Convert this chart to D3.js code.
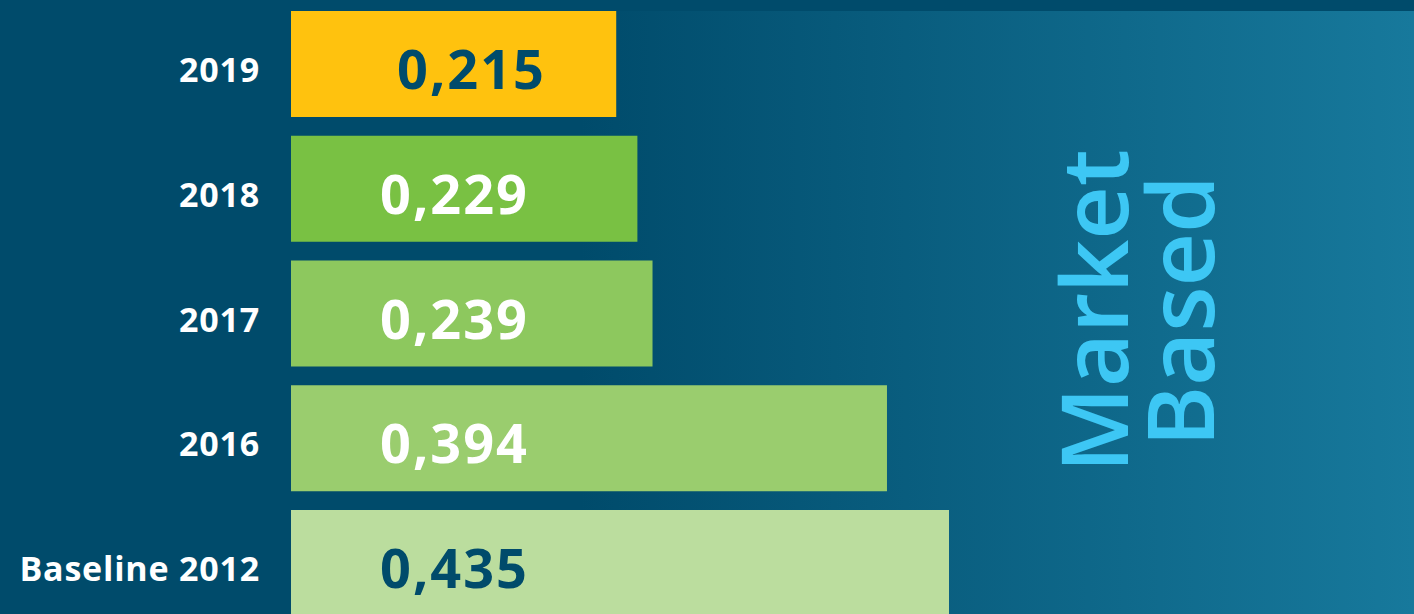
<!DOCTYPE html>
<html>
<head>
<meta charset="utf-8">
<script src="https://cdn.jsdelivr.net/npm/d3@7"></script>
<style>
  html, body { margin: 0; padding: 0; background: #004B6B; overflow: hidden; }
  svg { display: block; }
</style>
</head>
<body>
<div id="chart"></div>
<script>
// Data
const categories = ["2019", "2018", "2017", "2016", "Baseline 2012"];
const values = [0.215, 0.229, 0.239, 0.394, 0.435];
const valueLabels = ["0,215", "0,229", "0,239", "0,394", "0,435"];
const barColors = ["#FFC20E", "#79C143", "#8DC85E", "#9ACD6E", "#BBDD9E"];
const valueColors = ["#004B6B", "#FFFFFF", "#FFFFFF", "#FFFFFF", "#004B6B"];
const sideTitle = ["Market", "Based"];

const width = 1414, height = 614;

const svg = d3.select("#chart")
    .append("svg")
    .attr("width", width)
    .attr("height", height);

// Background gradient
const defs = svg.append("defs");
const grad = defs.append("linearGradient")
    .attr("id", "bg-grad")
    .attr("x1", 0).attr("x2", width)
    .attr("y1", 0).attr("y2", 0)
    .attr("gradientUnits", "userSpaceOnUse");
grad.append("stop").attr("offset", 580 / width).attr("stop-color", "#004B6B");
grad.append("stop").attr("offset", 1).attr("stop-color", "#17799C");

svg.append("rect")
    .attr("width", width).attr("height", height)
    .attr("fill", "#004B6B");
svg.append("rect")
    .attr("y", 11)
    .attr("width", width).attr("height", height - 11)
    .attr("fill", "url(#bg-grad)");

// Scales
const x = d3.scaleLinear()
    .domain([0, 0.435])
    .range([291, 949]);

const y = d3.scaleBand()
    .domain(categories)
    .range([11, 616])
    .paddingInner(0.1503)
    .paddingOuter(0);

const rows = categories.map((c, i) => ({
    cat: c, value: values[i], label: valueLabels[i],
    color: barColors[i], textColor: valueColors[i]
}));

// Bars
svg.selectAll(".bar")
    .data(rows)
    .enter()
    .append("rect")
    .attr("class", "bar")
    .attr("x", x(0))
    .attr("y", d => y(d.cat))
    .attr("width", d => x(d.value) - x(0))
    .attr("height", y.bandwidth())
    .attr("fill", d => d.color);

// Category labels
svg.selectAll(".cat-label")
    .data(rows)
    .enter()
    .append("text")
    .attr("class", "cat-label")
    .attr("x", 260)
    .attr("y", d => y(d.cat) + y.bandwidth() / 2 + 18)
    .attr("text-anchor", "end")
    .attr("font-family", "'Open Sans', sans-serif")
    .attr("font-weight", 700)
    .attr("font-size", "34px")
    .attr("letter-spacing", "0.8px")
    .attr("fill", "#FFFFFF")
    .text(d => d.cat);

// Value labels
svg.selectAll(".val-label")
    .data(rows)
    .enter()
    .append("text")
    .attr("class", "val-label")
    .attr("x", (d, i) => x(0) + (i === 0 ? 106 : 89))
    .attr("y", d => y(d.cat) + y.bandwidth() / 2 + 25)
    .attr("font-family", "'Open Sans', sans-serif")
    .attr("font-weight", 700)
    .attr("font-size", "54px")
    .attr("letter-spacing", "2px")
    .attr("fill", d => d.textColor)
    .text(d => d.label);

// Side title
const titleX = [1128, 1214];
sideTitle.forEach((t, i) => {
    svg.append("text")
        .attr("transform", `translate(${titleX[i]},${311})rotate(-90)`)
        .attr("text-anchor", "middle")
        .attr("font-family", "'Open Sans', sans-serif")
        .attr("font-weight", 600)
        .attr("font-size", "93px")
        .attr("fill", "#3DC7F4")
        .text(t);
});
</script>
</body>
</html>
